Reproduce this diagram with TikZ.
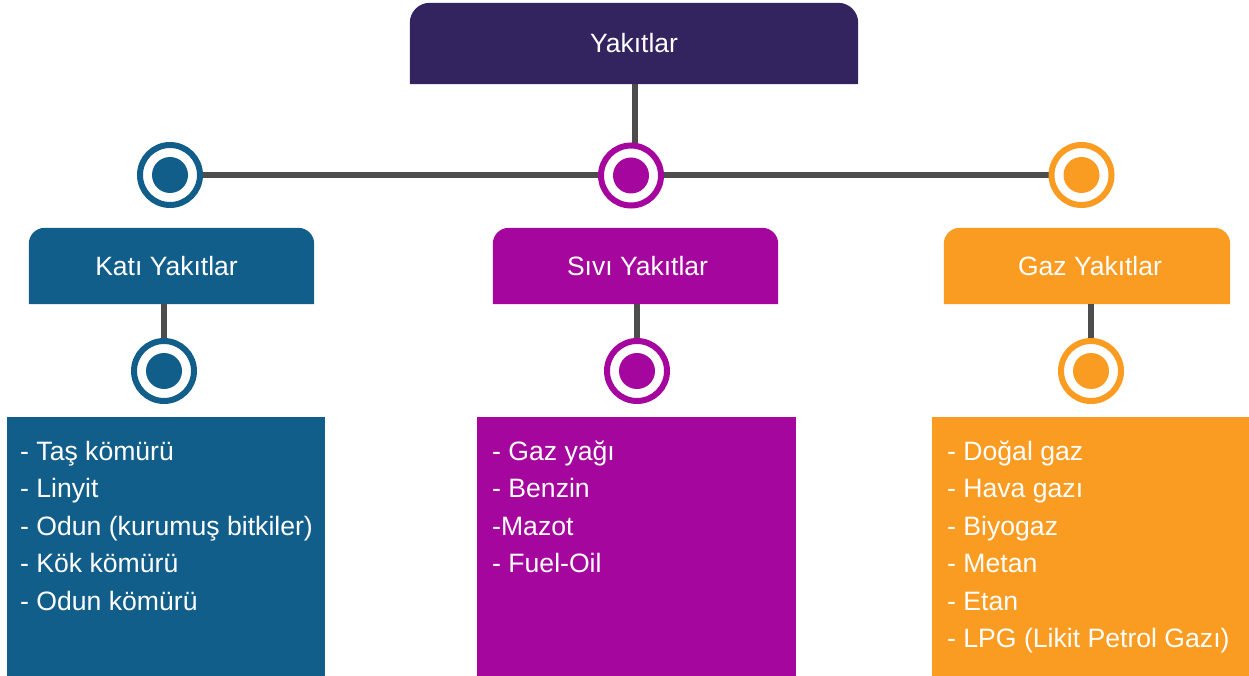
\documentclass[tikz,border=0pt]{standalone}
\usepackage{fontspec}
\setmainfont{Liberation Sans}
\usetikzlibrary{backgrounds}
\definecolor{cTop}{HTML}{33235F}
\definecolor{cBlue}{HTML}{125E8A}
\definecolor{cMag}{HTML}{A5069D}
\definecolor{cOra}{HTML}{FA9C22}
\definecolor{cLine}{HTML}{4D4D4D}
\newcommand{\topfill}[3]{\fill[#2] (#1.south west) [rounded corners=#3] -- (#1.north west) -- (#1.north east) [sharp corners] -- (#1.south east) -- cycle;}
\begin{document}
\begin{tikzpicture}[x=1pt,y=-1pt,
  boxshape/.style={rectangle,inner sep=0pt,minimum width=#1},
  headtext/.style={text=white,font=\fontsize{26.5}{30}\selectfont},
  ring/.style={circle,draw=#1,line width=6pt,fill=white,minimum size=60pt,inner sep=0pt,
    path picture={\fill[#1] (path picture bounding box.center) circle (18pt);}},
  listtext/.style={anchor=north west,inner sep=0pt,align=left,text=white,font=\fontsize{26.6}{37.5}\selectfont},
  conn/.style={draw=cLine,line width=6.5pt}]
\useasboundingbox (0,0) rectangle (1249,676);
% top box
\node[boxshape=448pt,minimum height=81pt,headtext] (top) at (634,43.5) {Yakıtlar};
% category boxes
\node[boxshape=285pt,minimum height=76pt,headtext] (kati) at (171.5,266) {Katı Yakıtlar\hspace*{10pt}};
\node[boxshape=285pt,minimum height=76pt,headtext] (sivi) at (635.5,266) {\hspace*{4pt}Sıvı Yakıtlar};
\node[boxshape=286pt,minimum height=76pt,headtext] (gaz) at (1087,266) {\hspace*{6pt}Gaz Yakıtlar};
% bottom boxes
\node[boxshape=318pt,minimum height=259pt] (katiL) at (166,546.5) {};
\node[boxshape=318pt,minimum height=259pt] (siviL) at (636.5,546.5) {};
\node[boxshape=317pt,minimum height=259pt] (gazL) at (1090.5,546.5) {};
% circles
\node[ring=cBlue] (c1) at (170,175) {};
\node[ring=cMag] (c2) at (631,175.5) {};
\node[ring=cOra] (c3) at (1081.5,175) {};
\node[ring=cBlue] (d1) at (164,371) {};
\node[ring=cMag] (d2) at (637,371) {};
\node[ring=cOra] (d3) at (1091,371) {};
% lists
\node[listtext] (l1) at (20,433.75) {\strut- Taş kömürü\\- Linyit\\- Odun (kurumuş bitkiler)\\- Kök kömürü\\- Odun kömürü};
\node[listtext] (l2) at (492,433.75) {\strut- Gaz yağı\\- Benzin\\-Mazot\\- Fuel-Oil};
\node[listtext] (l3) at (947,433.75) {\strut- Doğal gaz\\- Hava gazı\\- Biyogaz\\- Metan\\- Etan\\- LPG (Likit Petrol Gazı)};
\begin{scope}[on background layer]
  \topfill{top}{cTop}{20pt}
  \topfill{kati}{cBlue}{16pt}
  \topfill{sivi}{cMag}{16pt}
  \topfill{gaz}{cOra}{16pt}
  \fill[cBlue] (katiL.south west) rectangle (katiL.north east);
  \fill[cMag] (siviL.south west) rectangle (siviL.north east);
  \fill[cOra] (gazL.south west) rectangle (gazL.north east);
  \draw[conn] (c1.center) -- (c3.center);
  \draw[conn] (top.south -| 635,0) -- (c2.center -| 635,0);
  \draw[conn] (d1 |- kati.south) -- (d1.center);
  \draw[conn] (d2 |- sivi.south) -- (d2.center);
  \draw[conn] (d3 |- gaz.south) -- (d3.center);
\end{scope}
\end{tikzpicture}
\end{document}
